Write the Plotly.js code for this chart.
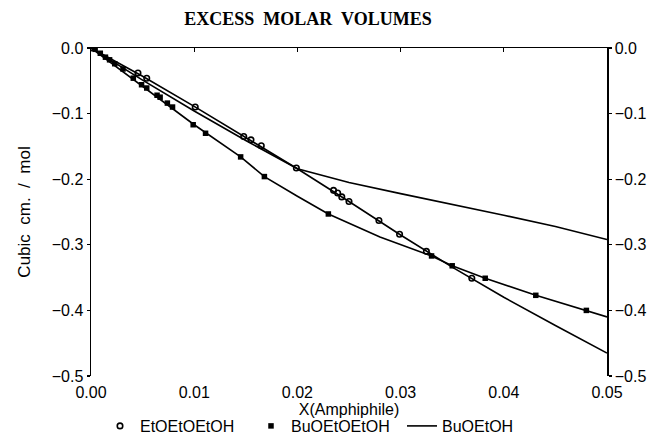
<!DOCTYPE html>
<html>
<head>
<meta charset="utf-8">
<script src="https://cdn.plot.ly/plotly-3.0.1.min.js"></script>
<style>html,body{margin:0;padding:0;background:#fff;}#chart{width:653px;height:434px;}</style>
</head>
<body>
<div id="chart"></div>
<script>
// EtOEtOEtOH : open circles (measured points)
const etoX = [0, 0.00455, 0.0054, 0.0101, 0.0148, 0.0155, 0.0165, 0.0199, 0.0235, 0.0239, 0.0243, 0.025, 0.0279, 0.0299, 0.0325, 0.0369];
const etoY = [0, -0.038, -0.046, -0.090, -0.135, -0.140, -0.149, -0.183, -0.217, -0.221, -0.227, -0.234, -0.263, -0.284, -0.310, -0.351];
// EtOEtOEtOH : curve through the points
const etoLineX = [0, 0.005, 0.01, 0.015, 0.02, 0.025, 0.03, 0.035, 0.04, 0.045, 0.05];
const etoLineY = [0, -0.043, -0.089, -0.137, -0.184, -0.234, -0.285, -0.334, -0.380, -0.423, -0.465];

// BuOEtOEtOH : filled squares (measured points)
const buoeX = [0.0004, 0.0009, 0.0014, 0.0018, 0.0023, 0.0031, 0.0041, 0.0049, 0.0054, 0.0064, 0.0067, 0.0074, 0.0079, 0.0099, 0.0111, 0.0145, 0.0168, 0.023, 0.033, 0.035, 0.0382, 0.0431, 0.048];
const buoeY = [-0.002, -0.008, -0.014, -0.018, -0.024, -0.032, -0.046, -0.056, -0.061, -0.072, -0.075, -0.084, -0.090, -0.117, -0.130, -0.166, -0.196, -0.253, -0.317, -0.332, -0.351, -0.377, -0.400];
// BuOEtOEtOH : curve through the points
const buoeLineX = [0, 0.005, 0.01, 0.0145, 0.0168, 0.02, 0.023, 0.028, 0.033, 0.035, 0.0382, 0.0431, 0.048, 0.05];
const buoeLineY = [0, -0.059, -0.117, -0.166, -0.196, -0.226, -0.253, -0.288, -0.317, -0.332, -0.351, -0.377, -0.400, -0.410];

// BuOEtOH : line only
const buoX = [0, 0.005, 0.01, 0.015, 0.02, 0.025, 0.03, 0.035, 0.04, 0.045, 0.05];
const buoY = [0, -0.049, -0.096, -0.141, -0.184, -0.205, -0.222, -0.238, -0.255, -0.272, -0.292];

const xTicks = [0, 0.01, 0.02, 0.03, 0.04, 0.05];
const yTicks = [0, -0.1, -0.2, -0.3, -0.4, -0.5];

const FONT = 'Liberation Sans, Arial, sans-serif';
const lineStyle = {color: '#000', width: 1.6};
const yText = yTicks.map(v => v === 0 ? '0.0' : '\u2212' + Math.abs(v).toFixed(1));

const traces = [
  {x: etoLineX, y: etoLineY, mode: 'lines', line: lineStyle, showlegend: false, hoverinfo: 'skip'},
  {x: buoeLineX, y: buoeLineY, mode: 'lines', line: lineStyle, showlegend: false, hoverinfo: 'skip'},
  {x: etoX, y: etoY, mode: 'markers', name: 'EtOEtOEtOH',
   marker: {symbol: 'circle-open', size: 5.5, color: '#000', line: {width: 1.6, color: '#000'}}},
  {x: buoeX, y: buoeY, mode: 'markers', name: 'BuOEtOEtOH',
   marker: {symbol: 'square', size: 5.5, color: '#000'}},
  {x: buoX, y: buoY, mode: 'lines', name: 'BuOEtOH', line: lineStyle, xaxis: 'x2', yaxis: 'y2'}
];

const layout = {
  width: 653, height: 434,
  margin: {l: 91, r: 46, t: 48, b: 58, autoexpand: false},
  paper_bgcolor: '#fff', plot_bgcolor: '#fff',
  font: {family: FONT, size: 16, color: '#000'},
  title: {text: '<b>EXCESS  MOLAR  VOLUMES</b>', font: {family: 'Liberation Serif, Times New Roman, serif', size: 18, color: '#000'},
          x: 308/653, xanchor: 'center', y: 1 - 19/434, yanchor: 'middle'},
  xaxis: {range: [0, 0.05], tickvals: xTicks, ticktext: xTicks.map(v => v.toFixed(2)),
          showline: false, ticks: '', showgrid: false, zeroline: false, automargin: false,
          ticklabelstandoff: 5,
          title: {text: 'X(Amphiphile)', standoff: 0, font: {size: 16}}},
  xaxis2: {range: [0, 0.05], overlaying: 'x', side: 'top', anchor: 'y2', tickvals: xTicks,
           showticklabels: false, showline: true, linecolor: '#000', linewidth: 1.5,
           ticks: 'inside', ticklen: 4, tickcolor: '#000', tickwidth: 1.2, showgrid: false, zeroline: false},
  yaxis: {range: [-0.5, 0], tickvals: yTicks, ticktext: yText, automargin: false,
          showline: true, linecolor: '#000', linewidth: 1.5, ticks: 'outside', ticklen: 3, tickcolor: '#000', tickwidth: 1.2,
          showgrid: false, zeroline: false,
          title: {text: 'Cubic  cm.  /  mol', standoff: 17, font: {size: 17}}},
  yaxis2: {range: [-0.5, 0], overlaying: 'y', side: 'right', anchor: 'x2', tickvals: yTicks, ticktext: yText,
           showline: true, linecolor: '#000', linewidth: 1.5, ticks: 'outside', ticklen: 3, tickcolor: '#000', tickwidth: 1.2,
           showgrid: false, zeroline: false, automargin: false},
  showlegend: true,
  legend: {orientation: 'h', x: (100 - 91) / 516, xref: 'paper', xanchor: 'left', y: (376 - 426) / 328, yanchor: 'middle',
           font: {size: 16}, bgcolor: 'rgba(0,0,0,0)', itemwidth: 30, entrywidth: 106, tracegroupgap: 0}
};

Plotly.newPlot('chart', traces, layout, {staticPlot: true, displayModeBar: false});
</script>
</body>
</html>
